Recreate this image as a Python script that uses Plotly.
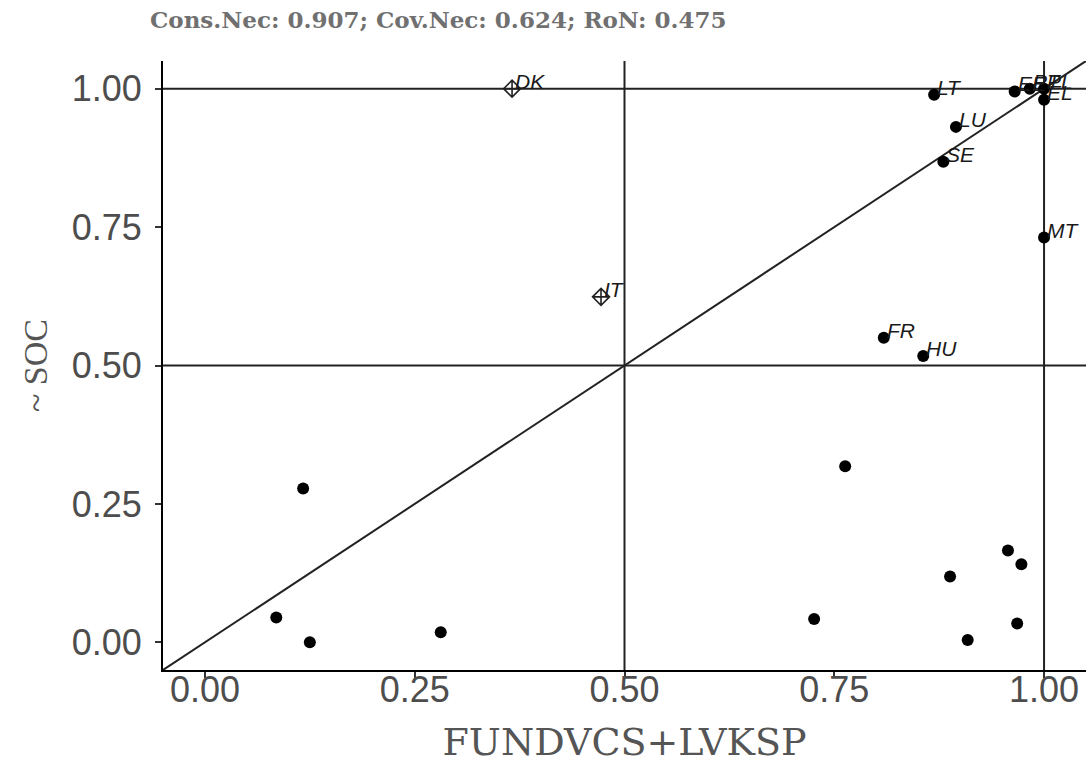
import plotly.graph_objects as go

# Cases with their set memberships
case_labels = ["DK", "IT", "LT", "LU", "SE", "MT", "FR", "HU", "EE", "PT", "PL", "EL",
               "", "", "", "", "", "", "", "", "", "", ""]
fundvcs_lvksp = [0.366, 0.472, 0.869, 0.895, 0.880, 1.000, 0.809, 0.856, 0.965, 0.983, 1.000, 1.000,
                 0.117, 0.085, 0.125, 0.281, 0.763, 0.726, 0.888, 0.957, 0.973, 0.909, 0.968]
not_soc = [1.000, 0.624, 0.989, 0.931, 0.868, 0.731, 0.550, 0.517, 0.995, 1.000, 1.000, 0.980,
           0.278, 0.045, 0.000, 0.018, 0.318, 0.042, 0.119, 0.166, 0.141, 0.004, 0.034]
deviant = ["DK", "IT"]  # drawn with the diamond-plus symbol

ref_lines = [0.5, 1.0]
tick_vals = [0.0, 0.25, 0.5, 0.75, 1.0]
tick_text = ["0.00", "0.25", "0.50", "0.75", "1.00"]
axis_range = [-0.05, 1.05]

title_text = "Cons.Nec: 0.907; Cov.Nec: 0.624; RoN: 0.475"
x_title = "FUNDVCS+LVKSP"
y_title = "~ SOC"

grey_text = "#4d4d4d"
serif_wide = "DejaVu Serif, serif"
serif = "Liberation Serif, serif"
sans = "Liberation Sans, Arial, sans-serif"

fig = go.Figure()

circ_idx = [i for i, c in enumerate(case_labels) if c not in deviant]
dev_idx = [i for i, c in enumerate(case_labels) if c in deviant]

fig.add_trace(go.Scatter(
    x=[fundvcs_lvksp[i] for i in circ_idx],
    y=[not_soc[i] for i in circ_idx],
    mode="markers",
    marker=dict(symbol="circle", size=12, color="black"),
    hoverinfo="skip", showlegend=False,
))
fig.add_trace(go.Scatter(
    x=[fundvcs_lvksp[i] for i in dev_idx],
    y=[not_soc[i] for i in dev_idx],
    mode="markers",
    marker=dict(symbol="diamond-cross-open", size=13, color="#222",
                line=dict(width=1.6, color="#222")),
    hoverinfo="skip", showlegend=False,
))

# Case labels next to their points
for lab, xv, yv in zip(case_labels, fundvcs_lvksp, not_soc):
    if not lab:
        continue
    fig.add_annotation(
        x=xv, y=yv, text=lab, showarrow=False,
        xanchor="left", yanchor="bottom", xshift=1, yshift=-6,
        font=dict(family=sans, size=21, color="#1a1a1a", style="italic"),
    )

# Reference lines: quadrant split and the diagonal
line_style = dict(color="#222", width=2)
for v in ref_lines:
    fig.add_shape(type="line", xref="x", yref="y", x0=axis_range[0], x1=axis_range[1],
                  y0=v, y1=v, line=line_style, layer="below")
    fig.add_shape(type="line", xref="x", yref="y", x0=v, x1=v,
                  y0=axis_range[0], y1=axis_range[1], line=line_style, layer="below")
fig.add_shape(type="line", xref="x", yref="y", x0=axis_range[0], y0=axis_range[0],
              x1=axis_range[1], y1=axis_range[1], line=line_style, layer="below")

axis_common = dict(
    range=axis_range, tickvals=tick_vals, ticktext=tick_text,
    showgrid=False, zeroline=False,
    showline=True, linecolor="black", linewidth=2,
    ticks="outside", ticklen=6, tickwidth=2, tickcolor="#333",
    tickfont=dict(family=sans, size=36, color=grey_text),
)

fig.update_xaxes(**axis_common, ticklabelstandoff=-19,
                 title=dict(text=x_title, standoff=26,
                            font=dict(family=serif_wide, size=38, color="#555")))
fig.update_yaxes(**axis_common, ticklabelstandoff=6,
                 title=dict(text=y_title, standoff=14,
                            font=dict(family=serif, size=34, color="#555")))

fig.update_layout(
    width=1087, height=764,
    margin=dict(l=163, r=1, t=61, b=94),
    paper_bgcolor="white", plot_bgcolor="white",
    title=dict(text="<b>" + title_text + "</b>", x=150 / 1087, xanchor="left",
               xref="container", yref="container", y=1 - 20 / 764, yanchor="middle",
               font=dict(family=serif_wide, size=23, color="#707070")),
)

fig.write_html("out.html")
